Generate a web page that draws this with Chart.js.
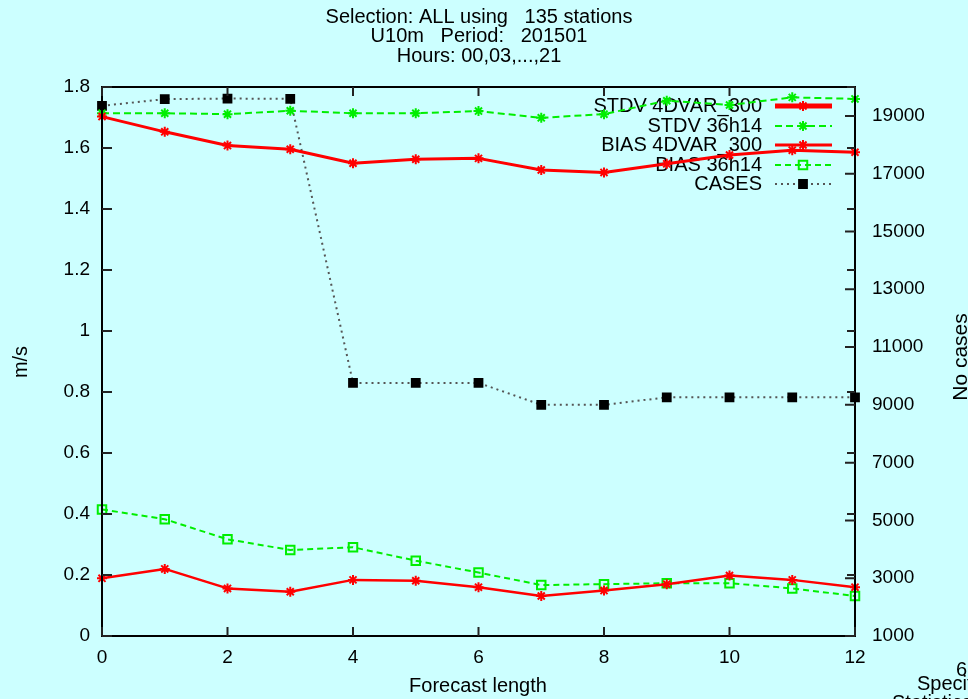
<!DOCTYPE html>
<html><head><meta charset="utf-8">
<script src="https://cdn.jsdelivr.net/npm/chart.js@4.4.1/dist/chart.umd.min.js"></script>
<style>html,body{margin:0;padding:0;background:#ccffff;overflow:hidden}canvas{display:block}</style>
</head><body>
<canvas id="c" width="968" height="699"></canvas>
<script>
const forecastLength = [0,1,2,3,4,5,6,7,8,9,10,11,12];
const stdv4dvar = [1.703,1.653,1.608,1.596,1.550,1.563,1.566,1.528,1.520,1.548,1.577,1.593,1.586];
const stdv36h14 = [1.714,1.714,1.711,1.722,1.714,1.714,1.721,1.699,1.711,1.755,1.741,1.766,1.761];
const bias4dvar = [0.189,0.220,0.156,0.145,0.184,0.181,0.160,0.131,0.149,0.170,0.198,0.184,0.160];
const bias36h14 = [0.415,0.383,0.317,0.282,0.291,0.247,0.208,0.167,0.170,0.173,0.173,0.156,0.131];
const cases = [19350,19580,19600,19590,9760,9760,9760,9000,9000,9260,9260,9260,9260];

const leftTicks = [0,0.2,0.4,0.6,0.8,1,1.2,1.4,1.6,1.8];
const rightTicks = [1000,3000,5000,7000,9000,11000,13000,15000,17000,19000];
const bottomTicks = [0,2,4,6,8,10,12];
const titleLines = ["Selection: ALL using   135 stations","U10m   Period:   201501","Hours: 00,03,...,21"];
const legendLabels = ["STDV 4DVAR_300","STDV 36h14","BIAS 4DVAR_300","BIAS 36h14","CASES"];
const xTitle = "Forecast length";
const yTitle = "m/s";
const y1Title = "No cases";
const footer = ["6","Specific","Statistics"];

const FAMILY = '"Liberation Sans", Arial, sans-serif';
const FONT = '20px ' + FAMILY;
const RED = '#ff0000', GREEN = '#00ee00', GRAY = '#555555';

function pts(arr){ return forecastLength.map((x,i)=>({x:x,y:arr[i]})); }

const styles = [
  {color:RED, width:3, dash:[], point:'star', r:5, fill:RED, lw:5, pborder:RED},
  {color:GREEN, width:2, dash:[7,4], point:'star', r:5, fill:GREEN, lw:2, pborder:GREEN},
  {color:RED, width:2.5, dash:[], point:'star', r:5, fill:RED, lw:3, pborder:RED},
  {color:GREEN, width:2, dash:[6,4], point:'rect', r:6, fill:'rgba(0,0,0,0)', lw:2, pborder:GREEN},
  {color:GRAY, width:2, dash:[2,4], point:'rect', r:5.5, fill:'#000000', lw:2, pborder:'#000000'}
];
const series = [stdv4dvar, stdv36h14, bias4dvar, bias36h14, cases];

const datasets = series.map((s,i)=>({
  label: legendLabels[i],
  data: pts(s),
  yAxisID: i===4 ? 'y1' : 'y',
  borderColor: styles[i].color,
  borderWidth: styles[i].width,
  borderDash: styles[i].dash,
  pointStyle: styles[i].point,
  pointRadius: styles[i].r,
  pointBackgroundColor: styles[i].fill,
  pointBorderColor: styles[i].pborder,
  pointBorderWidth: 2,
  tension: 0,
  fill: false,
  clip: false
}));

const deco = {
  id:'deco',
  beforeDraw(chart){
    const c = chart.ctx;
    c.save(); c.fillStyle = '#ccffff'; c.fillRect(0,0,chart.width,chart.height); c.restore();
  },
  beforeDatasetsDraw(chart){
    const c = chart.ctx;
    c.save();
    c.font = FONT; c.textAlign = 'right'; c.textBaseline = 'middle';
    const rowY = [106,126,145,165,184];
    legendLabels.forEach((t,i)=>{
      const y = rowY[i];
      c.fillStyle = '#000';
      c.fillText(t, 762, y);
      const st = styles[i];
      c.strokeStyle = st.color; c.lineWidth = st.lw; c.setLineDash(st.dash);
      c.beginPath(); c.moveTo(775,y); c.lineTo(832,y); c.stroke();
      c.setLineDash([]);
      c.fillStyle = st.fill; c.strokeStyle = st.pborder; c.lineWidth = 2;
      c.beginPath();
      if (st.point==='rect'){ const s = st.r*Math.SQRT1_2; c.rect(803-s,y-s,2*s,2*s); c.fill(); c.stroke(); }
      else { const r=st.r; for(let k=0;k<4;k++){ const ang=k*Math.PI/4; c.moveTo(803-r*Math.cos(ang),y-r*Math.sin(ang)); c.lineTo(803+r*Math.cos(ang),y+r*Math.sin(ang)); } c.stroke(); }
    });
    c.restore();
  },
  afterDatasetsDraw(chart){
    const c = chart.ctx, a = chart.chartArea;
    const xs = chart.scales.x, ys = chart.scales.y, y1 = chart.scales.y1;
    c.save();
    c.strokeStyle = '#000'; c.lineWidth = 2; c.setLineDash([]);
    c.strokeRect(a.left, a.top, a.right-a.left, a.bottom-a.top);
    c.lineWidth = 2; c.strokeStyle = '#222';
    c.beginPath();
    bottomTicks.forEach(v=>{ const p = xs.getPixelForValue(v); c.moveTo(p,a.bottom); c.lineTo(p,a.bottom-9); c.moveTo(p,a.top); c.lineTo(p,a.top+9); });
    leftTicks.forEach(v=>{ const p = ys.getPixelForValue(v); c.moveTo(a.left,p); c.lineTo(a.left+10,p); c.moveTo(a.right,p); c.lineTo(a.right-8,p); });
    rightTicks.forEach(v=>{ const p = y1.getPixelForValue(v); c.moveTo(a.right,p); c.lineTo(a.right-10,p); });
    c.stroke();
    c.restore();
  },
  afterDraw(chart){
    const c = chart.ctx;
    c.save();
    c.font = FONT; c.fillStyle = '#000'; c.textBaseline = 'middle'; c.textAlign = 'center';
    titleLines.forEach((t,i)=> c.fillText(t, 479, 17 + i*19.5));
    c.fillText(xTitle, 478, 686);
    c.save(); c.translate(21, 362); c.rotate(-Math.PI/2); c.fillText(yTitle, 0, 0); c.restore();
    c.save(); c.font = '21px ' + FAMILY; c.translate(961, 357); c.rotate(-Math.PI/2); c.fillText(y1Title, 0, 0); c.restore();
    c.textAlign = 'left';
    c.fillText(footer[0], 956, 670);
    c.fillText(footer[1], 917, 684);
    c.fillText(footer[2], 892, 703);
    c.restore();
  }
};

new Chart(document.getElementById('c'), {
  type:'line',
  data:{ datasets: datasets },
  options:{
    responsive:false, animation:false, devicePixelRatio:1,
    layout:{ padding:{ top:87, left:0, right:0, bottom:0 } },
    plugins:{ legend:{display:false}, title:{display:false}, tooltip:{enabled:false} },
    elements:{ line:{ borderJoinStyle:'round' } },
    scales:{
      x:{ type:'linear', min:0, max:12,
        grid:{display:false, drawTicks:false}, border:{display:false},
        afterBuildTicks(s){ s.ticks = bottomTicks.map(v=>({value:v})); },
        afterFit(s){ s.height = 63; },
        ticks:{ font:{family:FAMILY, size:19}, color:'#000', padding:10, maxRotation:0, autoSkip:false }
      },
      y:{ type:'linear', position:'left', min:0, max:1.8,
        grid:{display:false, drawTicks:false}, border:{display:false},
        afterBuildTicks(s){ s.ticks = leftTicks.map(v=>({value:v})); },
        afterFit(s){ s.width = 102; },
        ticks:{ font:{family:FAMILY, size:19}, color:'#000', padding:12,
          callback:(v)=> String(Number(v.toFixed(1))) }
      },
      y1:{ type:'linear', position:'right', min:1000, max:20000,
        grid:{display:false, drawTicks:false}, border:{display:false},
        afterBuildTicks(s){ s.ticks = rightTicks.map(v=>({value:v})); },
        afterFit(s){ s.width = 113; },
        ticks:{ font:{family:FAMILY, size:19}, color:'#000', padding:17,
          callback:(v)=> String(v) }
      }
    }
  },
  plugins:[deco]
});
</script>
</body></html>
